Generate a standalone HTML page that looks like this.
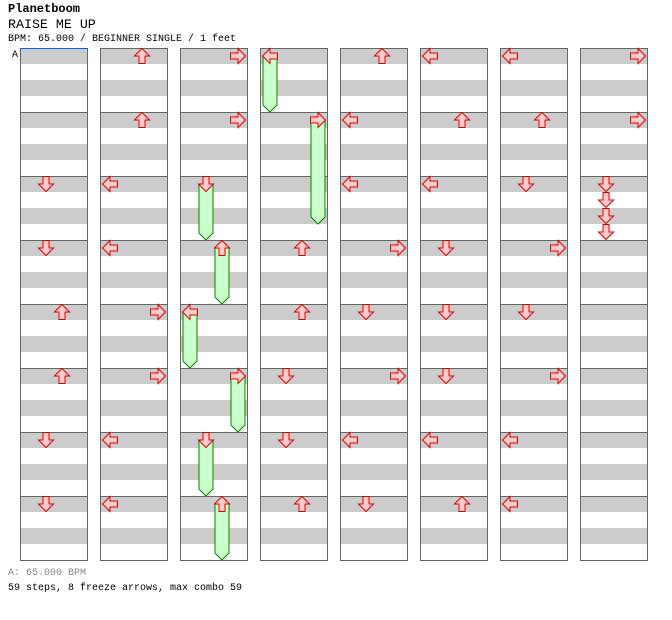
<!DOCTYPE html>
<html><head><meta charset="utf-8"><style>
body{margin:0;background:#fff;width:672px;height:620px;overflow:hidden;font-family:"Liberation Mono",monospace}
.t{position:absolute;left:8px;white-space:pre}
</style></head><body>
<div class="t" style="top:2px;font-size:12px;font-weight:bold">Planetboom</div>
<div class="t" style="top:17px;font-size:13.3px">RAISE ME UP</div>
<div class="t" style="top:34px;font-size:10px">BPM: 65.000 / BEGINNER SINGLE / 1 feet</div>
<div class="t" style="top:568px;font-size:10px;color:#888">A: 65.000 BPM</div>
<div class="t" style="top:583px;font-size:10px">59 steps, 8 freeze arrows, max combo 59</div>
<svg id="chart" width="672" height="620" style="position:absolute;left:0;top:0"></svg>
<script>
// global beat (4 per measure, 32 per column), lane 0=L 1=D 2=U 3=R, freeze length in beats (0 = tap)
const noteBeats=[8,12,16,20,24,28, 32,36,40,44,48,52,56,60, 64,68,72,76,80,84,88,92, 96,100,108,112,116,120,124, 128,132,136,140,144,148,152,156, 160,164,168,172,176,180,184,188, 192,196,200,204,208,212,216,220, 224,228,232,233,234,235];
const noteLanes=[1,1,2,2,1,1, 2,2,0,0,3,3,0,0, 3,3,1,2,0,3,1,2, 0,3,2,2,1,1,2, 2,0,0,3,1,3,0,1, 0,2,0,1,1,1,0,2, 0,2,1,3,1,3,0,0, 3,3,1,1,1,1];
const freezeLens=[0,0,0,0,0,0, 0,0,0,0,0,0,0,0, 0,0,4,4,4,4,4,4, 4,7,0,0,0,0,0, 0,0,0,0,0,0,0,0, 0,0,0,0,0,0,0,0, 0,0,0,0,0,0,0,0, 0,0,0,0,0,0];
const numCols=8, measuresPerCol=8, beatsPerMeasure=4;
const NS="http://www.w3.org/2000/svg";
const svg=document.getElementById('chart');
const colX=c=>20+c*80, beatY=b=>48+b*16, laneX=l=>22+l*16+8;
function mk(tag,attrs){const e=document.createElementNS(NS,tag);for(const k in attrs)e.setAttribute(k,attrs[k]);svg.appendChild(e);return e;}
for(let c=0;c<numCols;c++){
  for(let m=0;m<measuresPerCol;m++){
    const y=beatY(m*beatsPerMeasure);
    for(const b of [0,2]){
      const r=mk('rect',{x:colX(c),y:y+b*16,width:68,height:16,fill:'#cccccc'});
      
      
    }
    const box=mk('rect',{x:colX(c)+0.5,y:y+0.5,width:67,height:64,fill:'none',stroke:'#666',"stroke-width":1});
    
    
  }
}
const a=mk('text',{x:12,y:57,"font-size":10,"font-family":"Liberation Mono, monospace"});a.textContent='A';


const bl=mk('line',{x1:20,y1:48.5,x2:88,y2:48.5,stroke:'#0066dd'});


// arrow shapes (pointing up) in 16x16 box
const upPts=[[8,0.5],[15.5,8],[11,8],[11,15.5],[5,15.5],[5,8],[0.5,8]];
const rot=[p=>[p[1],p[0]],p=>[p[0],16-p[1]],p=>p,p=>[16-p[1],p[0]]];
const laneNames=['left','down','up','right'];
for(let i=0;i<noteBeats.length;i++){
  const gb=noteBeats[i], c=Math.floor(gb/32), lb=gb%32, l=noteLanes[i];
  const cx=colX(c)+laneX(l)-20, top=beatY(lb);
  if(freezeLens[i]>0){
    const end=top+freezeLens[i]*16;
    const f=mk('polygon',{points:`${cx-7},${top+8} ${cx+7},${top+8} ${cx+7},${end-7} ${cx},${end} ${cx-7},${end-7}`,fill:'#ccffcc',stroke:'#008800',"stroke-width":1});
    
    
  }
  const pts=upPts.map(rot[l]).map(p=>(cx-8+p[0])+','+(top+p[1])).join(' ');
  const ar=mk('polygon',{points:pts,fill:'#ffcccc',stroke:'#dd0000',"stroke-width":1});
  
  
}
</script>
</body></html>
